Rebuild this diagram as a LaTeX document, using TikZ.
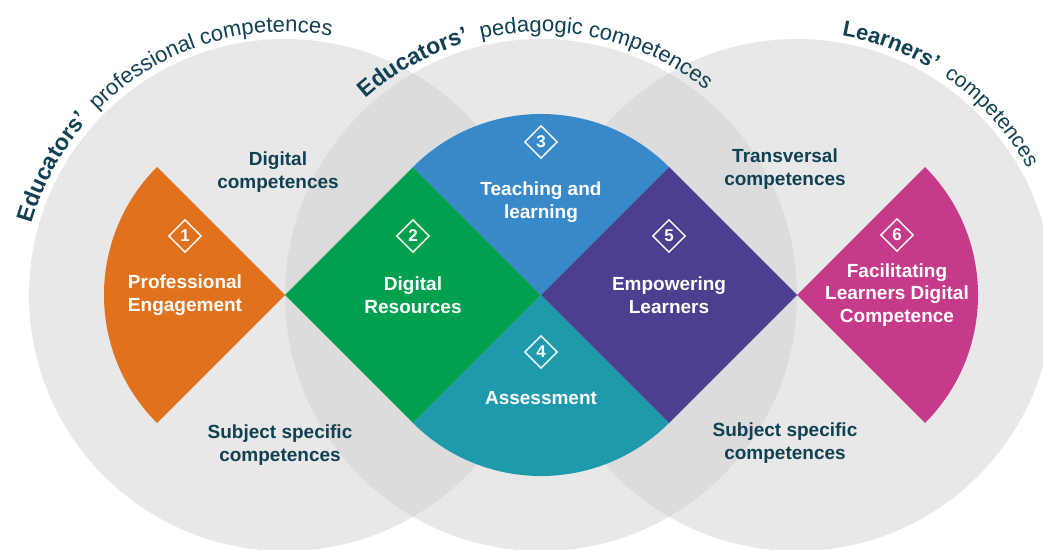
\documentclass[tikz,border=0pt]{standalone}
\usepackage{fontspec}
\setmainfont{Liberation Sans}
\usetikzlibrary{decorations.text,shapes.geometric}
\definecolor{ring}{RGB}{207,207,207}
\definecolor{orng}{RGB}{224,114,30}
\definecolor{grn}{RGB}{0,160,78}
\definecolor{blu}{RGB}{56,137,201}
\definecolor{tea}{RGB}{30,154,172}
\definecolor{purp}{RGB}{75,63,143}
\definecolor{mag}{RGB}{198,58,138}
\definecolor{txt}{RGB}{16,64,82}
\def\bld{\fontsize{23}{23}\selectfont\bfseries\color{txt}}
\def\reg{\fontsize{22}{22}\selectfont\mdseries\color{txt}}
\def\bldr{\fontsize{22}{22}\selectfont\bfseries\color{txt}}
\def\regr{\fontsize{21}{21}\selectfont\mdseries\color{txt}}
\begin{document}
\begin{tikzpicture}[x=1pt,y=1pt,
	lab/.style={text=white,font=\fontsize{19}{22.5}\selectfont\bfseries,align=center},
	dlab/.style={lab,text=txt},
	num/.style={diamond,draw=white,line width=1.4pt,text=white,inner sep=0pt,minimum size=33pt,font=\fontsize{17}{17}\selectfont\bfseries},
	arctext/.style={decorate,decoration={text along path,text align=center,text={#1}}}]
	\def\r{181.02}\def\rt{263}
	\useasboundingbox (0,0) rectangle (1043,549);
	\coordinate (L) at (285,254);\coordinate (M) at (541,254);\coordinate (R) at (797,254);
	\begin{scope}
		\clip (0,0) rectangle (1043,549);
		\foreach \c in {L,M,R}\fill[ring,fill opacity=.48] (\c) circle (256);
	\end{scope}
	% the six areas
	\fill[orng] (L) -- ++(135:\r) arc[start angle=135,end angle=225,radius=\r] -- cycle;
	\fill[grn] (L) -- ++(45:\r) -- (M) -- ++(-135:\r) -- cycle;
	\fill[blu] (M) -- ++(135:\r) arc[start angle=135,end angle=45,radius=\r] -- cycle;
	\fill[tea] (M) -- ++(-135:\r) arc[start angle=-135,end angle=-45,radius=\r] -- cycle;
	\fill[purp] (M) -- ++(45:\r) -- (R) -- ++(-135:\r) -- cycle;
	\fill[mag] (R) -- ++(45:\r) arc[start angle=45,end angle=-45,radius=\r] -- cycle;
	\foreach \n/\x/\y in {1/185/313,2/413/313,3/541/407,4/541/197,5/669/313,6/897/314}
		\node[num] (n\n) at (\x,\y) {\n};
	\node[lab] (eng) at (185,254) {Professional\\Engagement};
	\node[lab] (res) at (413,254) {Digital\\Resources};
	\node[lab] (teach) at (541,347) {Teaching and\\learning};
	\node[lab] (assess) at (541,151) {Assessment};
	\node[lab] (emp) at (669,254) {Empowering\\Learners};
	\node[lab] (fac) at (897,254) {Facilitating\\Learners Digital\\Competence};
	\node[dlab] (dig) at (278,377) {Digital\\competences};
	\node[dlab] (trans) at (785,380) {Transversal\\competences};
	\node[dlab] (subl) at (280,104) {Subject specific\\competences};
	\node[dlab] (subr) at (785,106) {Subject specific\\competences};
	% titles round the circles
	\path[arctext={|\bld|Educators’ |\reg| professional competences}] (L) ++(202:\rt) arc[start angle=202,end angle=42,radius=\rt];
	\path[arctext={|\bld|Educators’ |\reg| pedagogic competences}] (M) ++(171.5:\rt) arc[start angle=171.5,end angle=11.5,radius=\rt];
	\path[arctext={|\bldr|Learners’ |\regr| competences}] (R) ++(134.5:\rt) arc[start angle=134.5,end angle=-25.5,radius=\rt];
\end{tikzpicture}
\end{document}
